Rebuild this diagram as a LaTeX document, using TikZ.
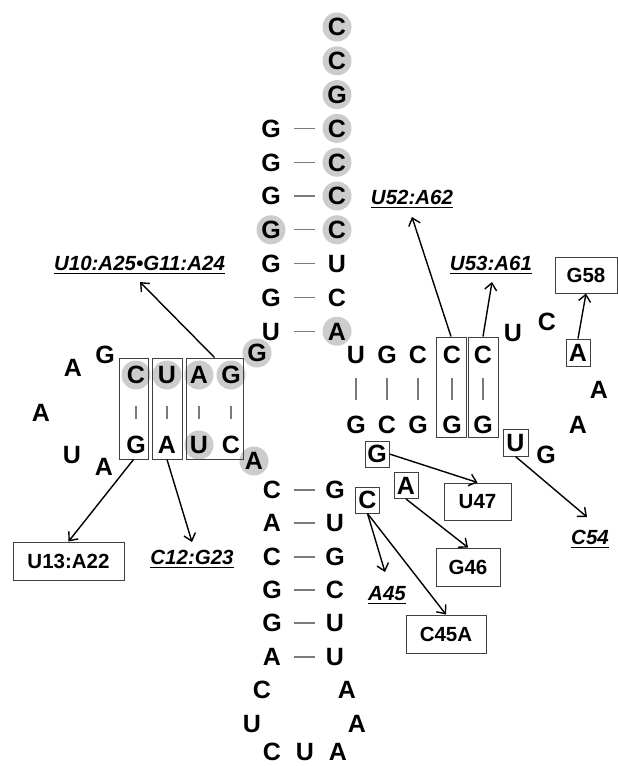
\documentclass[tikz,border=0pt]{standalone}
\usepackage{fontspec}
\setmainfont{Liberation Sans}
\usetikzlibrary{arrows.meta,calc}
\definecolor{cgray}{HTML}{CCCCCC}
\definecolor{boxc}{HTML}{404040}
\definecolor{barc}{HTML}{7A7A7A}
\newcommand\ntf{\fontsize{25}{29}\selectfont\bfseries}
\newcommand\lbf{\fontsize{20.5}{24}\selectfont\bfseries}
\newcommand\lbi{\fontsize{20.5}{24}\selectfont\bfseries\itshape}
\newcommand\myul[1]{\setbox0\hbox{#1}\rlap{\rule[-4pt]{\wd0}{1.3pt}}\box0}
\tikzset{
  nt/.style={font=\ntf, inner sep=0pt, text height=17.9pt, text depth=0pt},
  circ/.style={circle, fill=#1, minimum size=29pt},
  ntb/.style={nt, draw=boxc, line width=1pt, minimum width=24pt, minimum height=26pt},
  pbox/.style={draw=boxc, line width=1pt, inner sep=0pt, minimum height=101pt},
  bp/.style={draw=barc, line width=1.1pt},
  lab/.style={font=\lbi, inner sep=0pt, text height=14.8pt, text depth=0pt},
  lbox/.style={draw=boxc, line width=1pt, font=\lbf, inner sep=0pt, text height=14.8pt, text depth=0pt},
  arr/.style={-{Straight Barb[length=7pt,width=12pt]}, line width=1.4pt}
}
\begin{document}
\begin{tikzpicture}[x=1pt,y=-1pt]
\fill[white] (0,0) rectangle (618,766);
\useasboundingbox (0,0) rectangle (618,766);
% acceptor stem
\foreach \n/\t/\c in {0/C/cgray,1/C/cgray,2/G/cgray,3/C/cgray,4/C/cgray,5/C/cgray,6/C/cgray,7/U/none,8/C/none,9/A/cgray}
  \node[nt, circ=\c] (R\n) at (337,{27+33.8*\n}) {\t};
\foreach \n/\t/\c in {3/G/none,4/G/none,5/G/none,6/G/cgray,7/G/none,8/G/none,9/U/none}
  \node[nt, circ=\c] (L\n) at (271,{27+33.8*\n}) {\t};
\foreach \n in {3,...,9}
  \draw[bp] ($(L\n)!0.35!(R\n)$) -- ($(L\n)!0.67!(R\n)$);
% junction
\node[nt, circ=cgray] (j1) at (257,353) {G};
\node[nt, circ=cgray] (j2) at (254,461) {A};
% D stem
\foreach \i/\x/\t/\c/\b/\d in {1/136/C/cgray/G/none,2/167/U/cgray/A/none,3/199/A/cgray/U/cgray,4/231/G/cgray/C/none}{
  \node[nt, circ=\c] (dt\i) at (\x,375) {\t};
  \node[nt, circ=\d] (db\i) at (\x,445) {\b};
  \draw[bp] ($(dt\i)!0.44!(db\i)$) -- ($(dt\i)!0.63!(db\i)$);
}
\node[pbox, minimum width=29pt] (b1) at (133.5,408.5) {};
\node[pbox, minimum width=30pt] (b2) at (167,408.5) {};
\node[pbox, minimum width=57pt] (b3) at (214.5,408.5) {};
% D loop
\node[nt] (dl1) at (105,355) {G};
\node[nt] (dl2) at (73,368) {A};
\node[nt] (dl3) at (41,413) {A};
\node[nt] (dl4) at (72,455) {U};
\node[nt] (dl5) at (104,467) {A};
% anticodon stem
\foreach \n/\y/\a/\b in {1/490/C/G,2/523/A/U,3/557/C/G,4/590/G/C,5/623/G/U,6/657/A/U}{
  \node[nt] (al\n) at (272,\y) {\a};
  \node[nt] (ar\n) at (335,\y) {\b};
  \draw[bp] ($(al\n)!0.35!(ar\n)$) -- ($(al\n)!0.68!(ar\n)$);
}
% anticodon loop
\node[nt] (ac1) at (262,690) {C};
\node[nt] (ac2) at (252,724) {U};
\node[nt] (ac3) at (272,752) {C};
\node[nt] (ac4) at (305,752) {U};
\node[nt] (ac5) at (338,752) {A};
\node[nt] (ac6) at (357,724) {A};
\node[nt] (ac7) at (347,690) {A};
% variable region
\node[ntb] (vG) at (377,454) {G};
\node[ntb] (vA) at (406,485.5) {A};
\node[ntb] (vC) at (367.5,500) {C};
% T stem
\foreach \i/\x/\t/\b in {1/356/U/G,2/387/G/C,3/418/C/G,4/452/C/G,5/483/C/G}{
  \node[nt] (tt\i) at (\x,355) {\t};
  \node[nt] (tb\i) at (\x,425) {\b};
  \draw[bp] ($(tt\i)!0.33!(tb\i)$) -- ($(tt\i)!0.64!(tb\i)$);
}
\node[pbox, minimum width=30pt, minimum height=100pt] (b4) at (451,387) {};
\node[pbox, minimum width=30pt, minimum height=100pt] (b5) at (483,387) {};
% T loop
\node[nt] (tl1) at (513,333) {U};
\node[nt] (tl2) at (547,322) {C};
\node[ntb, minimum height=27pt] (tA) at (578,352.5) {A};
\node[nt] (tl4) at (599,390) {A};
\node[nt] (tl5) at (578,425) {A};
\node[nt] (tl6) at (546,455) {G};
\node[ntb, minimum height=27pt, minimum width=25pt] (tU) at (515.5,442.5) {U};
% labels
\node[lab] (l10) at (139.5,263) {\myul{U10:A25•G11:A24}};
\node[lab] (l52) at (412,197) {\myul{U52:A62}};
\node[lab] (l53) at (491,263) {\myul{U53:A61}};
\node[lab] (l12) at (192,557) {\myul{C12:G23}};
\node[lab] (l45) at (387,593) {\myul{A45}};
\node[lab] (l54) at (590,537) {\myul{C54}};
\node[lbox, minimum width=111pt, minimum height=38pt] (u13) at (68.5,561) {U13:A22};
\node[lbox, minimum width=62pt, minimum height=36pt] (g58) at (586,275) {G58};
\node[lbox, minimum width=67pt, minimum height=37pt] (u47) at (477.5,501.5) {U47};
\node[lbox, minimum width=64pt, minimum height=38pt] (g46) at (468,567) {G46};
\node[lbox, minimum width=80pt, minimum height=38pt] (c45a) at (446,634) {C45A};
% arrow ends
\coordinate (e10) at (140,282);
\coordinate (e52) at (412,217);
\coordinate (e53) at (492,282);
\coordinate (e12) at (192,542);
\coordinate (e45) at (385,572);
\coordinate (e54) at (587,517);
% arrows
\draw[arr] (b1.south) -- (u13.north);
\draw[arr] (b2.south) -- (e12);
\draw[arr] (b3.north) -- (e10);
\draw[arr] (b4.north) -- (e52);
\draw[arr] (b5.north) -- (e53);
\draw[arr] (tA.north) -- (g58.south);
\draw[arr] (tU.south) -- (e54);
\draw[arr] (vG.east) -- (u47.north);
\draw[arr] (vA.south) -- (g46.north);
\draw[arr] (vC.south) -- (e45);
\draw[arr] (vC.south) -- (c45a.north);
\end{tikzpicture}
\end{document}
